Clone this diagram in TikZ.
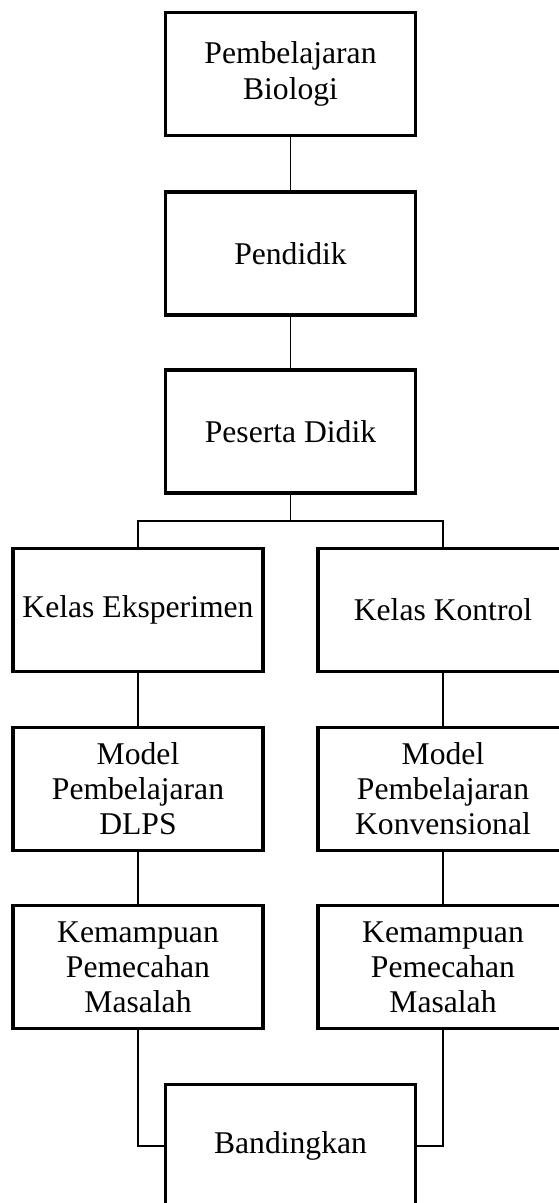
\documentclass[tikz,border=0pt]{standalone}
\usepackage{fontspec}
\setmainfont{Liberation Serif}
\usepackage{tikz}
\usetikzlibrary{positioning}

\begin{document}
\begin{tikzpicture}[
  every node/.style={font=\fontsize{18}{20}\selectfont},
  box/.style={draw=black, line width=1.8pt, minimum width=5.0cm, minimum height=2.46cm, align=center, inner sep=2pt},
  line/.style={draw=black, line width=1.1pt}
]
  \useasboundingbox (0,0) rectangle (11.16,-24.06);

  % Kolom tengah
  \node[box] (bio) at (5.81, -1.48) {Pembelajaran\\ Biologi};
  \node[box] (pendidik) at (5.81, -5.07) {Pendidik};
  \node[box] (peserta) at (5.81, -8.63) {Peserta Didik};

  % Kelas
  \node[box] (eks) at (2.76, -12.2) {Kelas Eksperimen};
  \node[box] (kon) at (8.86, -12.2) {Kelas Kontrol};
  \node[box] (modEks) at (2.76, -15.78) {Model\\ Pembelajaran\\ DLPS};
  \node[box] (modKon) at (8.86, -15.78) {Model\\ Pembelajaran\\ Konvensional};
  \node[box] (kemEks) at (2.76, -19.34) {Kemampuan\\ Pemecahan\\ Masalah};
  \node[box] (kemKon) at (8.86, -19.34) {Kemampuan\\ Pemecahan\\ Masalah};

  % Hasil
  \node[box] (banding) at (5.81, -22.92) {Bandingkan};

  \coordinate (cabang) at (5.81, -10.42);

  \draw[line] (bio) -- (pendidik);
  \draw[line] (pendidik) -- (peserta);
  \draw[line] (peserta.south) -- (cabang);
  \draw[line] (cabang) -| (eks.north);
  \draw[line] (cabang) -| (kon.north);
  \draw[line] (eks) -- (modEks);
  \draw[line] (kon) -- (modKon);
  \draw[line] (modEks) -- (kemEks);
  \draw[line] (modKon) -- (kemKon);
  \draw[line] (kemEks.south) |- (banding.west);
  \draw[line] (kemKon.south) |- (banding.east);

\end{tikzpicture}
\end{document}
